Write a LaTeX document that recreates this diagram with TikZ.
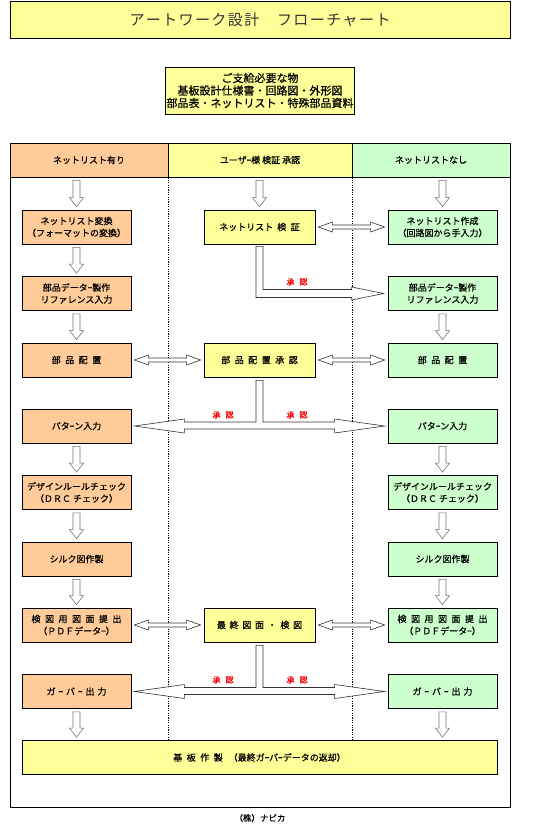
\documentclass[tikz,border=0pt]{standalone}
\usepackage{fontspec}
\setmainfont[FakeBold=0.6]{Noto Sans CJK JP}
\newfontfamily\titlefont{Noto Sans CJK JP}
\usetikzlibrary{calc}
\definecolor{orfill}{HTML}{FFCC99}
\definecolor{yefill}{HTML}{FFFF99}
\definecolor{grfill}{HTML}{CCFFCC}
\definecolor{redlbl}{HTML}{FF0000}
\makeatletter
\newcommand\spout[2]{\@tfor\tmpch:=#2\do{\tmpch\kern#1}\kern-#1}
\makeatother
\newcommand\dnarrow[2]{%
 \draw[dnarr] let \p1=(#1), \p2=(#2) in
  (\x2-3.5pt,\y1-3pt) -- (\x2+3.5pt,\y1-3pt) -- (\x2+3.5pt,\y2+12pt) -- (\x2+7pt,\y2+12pt)
  -- (\x2,\y2+3pt) -- (\x2-7pt,\y2+12pt) -- (\x2-3.5pt,\y2+12pt) -- cycle;}
\newcommand\dblarrow[2]{%
 \draw[harr] let \p1=(#1.east), \p2=(#2.west) in
  (\x1+3pt,\y1) -- (\x1+17pt,\y1+5pt) -- (\x1+17pt,\y1+2pt) -- (\x2-17pt,\y1+2pt)
  -- (\x2-17pt,\y1+5pt) -- (\x2-3pt,\y1) -- (\x2-17pt,\y1-5pt) -- (\x2-17pt,\y1-2pt)
  -- (\x1+17pt,\y1-2pt) -- (\x1+17pt,\y1-5pt) -- cycle;}
\newcommand\tarrow[3]{%
 \draw[harr] let \p1=(#1.south), \p2=(#2.east), \p3=(#3.west) in
  (\x2+3pt,\y2) -- (\x2+53pt,\y2+7pt) -- (\x2+53pt,\y2+4pt) -- (\x1-3.5pt,\y2+4pt)
  -- (\x1-3.5pt,\y1-3pt) -- (\x1+3.5pt,\y1-3pt) -- (\x1+3.5pt,\y2+4pt)
  -- (\x3-53pt,\y2+4pt) -- (\x3-53pt,\y2+7pt) -- (\x3-3pt,\y2) -- (\x3-53pt,\y2-7pt)
  -- (\x3-53pt,\y2-3pt) -- (\x2+53pt,\y2-3pt) -- (\x2+53pt,\y2-7pt) -- cycle;}
\begin{document}
\begin{tikzpicture}[x=1pt,y=-1pt,
  box/.style={draw, line width=0.8pt, minimum height=34pt, align=center, inner sep=1pt,
    font=\fontsize{9}{12}\selectfont},
  lbox/.style={box, fill=orfill, minimum width=109pt},
  cbox/.style={box, fill=yefill, minimum width=111pt},
  rbox/.style={box, fill=grfill, minimum width=109pt},
  hdr/.style={draw, line width=0.8pt, minimum height=34pt, font=\fontsize{9}{11}\selectfont},
  dnarr/.style={draw=black!55, line width=0.6pt, fill=white},
  harr/.style={draw=black!80, line width=0.6pt, fill=white},
  lbl/.style={text=redlbl, font=\fontsize{8}{10}\selectfont},
  dotline/.style={line width=1.4pt, dash pattern=on 1.2pt off 1.2pt}]
\useasboundingbox (0,0) rectangle (542,828);
\fill[white] (0,0) rectangle (542,828);
% title
\node[draw, line width=0.9pt, fill=yefill, minimum width=500pt, minimum height=37pt,
  font=\titlefont\fontsize{15}{17}\selectfont, text=black!80] (ttl) at (260,19.5)
  {\spout{1.4pt}{アートワーク設計　フローチャート}};
% supplies
\node[draw, line width=0.9pt, fill=yefill, minimum width=184pt, minimum height=47pt,
  align=center, inner sep=1pt, font=\fontsize{11}{12.5}\selectfont] (sup) at (260,90.5)
  {ご支給必要な物\\基板設計仕様書・回路図・外形図\\部品表・ネットリスト・特殊部品資料};
% frame and headers
\draw[line width=0.9pt] (10,143) rectangle (510,807);
\node[hdr, fill=orfill, minimum width=158pt] (hl) at (89,160) {ネットリスト有り};
\node[hdr, fill=yefill, minimum width=184pt] (hc) at (260,160) {ユーザｰ様 検証 承認};
\node[hdr, fill=grfill, minimum width=158pt] (hr) at (431,160) {ネットリストなし};
% bottom box
\node[box, fill=yefill, minimum width=475pt] (bot) at (259.5,757.5)
  {\spout{4.5pt}{基板作製}\hspace{6pt}（最終ガｰバｰデータの返却）};
% dotted separators
\draw[dotline] (hl.south east) -- (hl.south east |- bot.north);
\draw[dotline] (hc.south east) -- (hc.south east |- bot.north);
% left column
\node[lbox] (l1) at (76.5,227) {ネットリスト変換\\（フォーマットの変換）};
\node[lbox] (l2) at (76.5,293.5) {部品データｰ製作\\リファレンス入力};
\node[lbox] (l3) at (76.5,360) {\spout{4.5pt}{部品配置}};
\node[lbox] (l4) at (76.5,426) {パタｰン入力};
\node[lbox] (l5) at (76.5,492.5) {デザインルールチェック\\（ＤＲＣ チェック）};
\node[lbox] (l6) at (76.5,559) {シルク図作製};
\node[lbox] (l7) at (76.5,625) {\spout{4.5pt}{検図用図面提出}\\（ＰＤＦデータｰ）};
\node[lbox] (l8) at (76.5,691.5) {\spout{3pt}{ガｰバｰ出力}};
% center column
\node[cbox] (c1) at (259.5,227) {ネットリスト\hspace{4pt}\spout{4.5pt}{検証}};
\node[cbox] (c3) at (259.5,360) {\spout{4.5pt}{部品配置承認}};
\node[cbox] (c7) at (259.5,625) {\spout{3.7pt}{最終図面・検図}};
% right column
\node[rbox] (r1) at (442.5,227) {ネットリスト作成\\（回路図から手入力）};
\node[rbox] (r2) at (442.5,293.5) {部品データｰ製作\\リファレンス入力};
\node[rbox] (r3) at (442.5,360) {\spout{4.5pt}{部品配置}};
\node[rbox] (r4) at (442.5,426) {パタｰン入力};
\node[rbox] (r5) at (442.5,492.5) {デザインルールチェック\\（ＤＲＣ チェック）};
\node[rbox] (r6) at (442.5,559) {シルク図作製};
\node[rbox] (r7) at (442.5,625) {\spout{4.5pt}{検図用図面提出}\\（ＰＤＦデータｰ）};
\node[rbox] (r8) at (442.5,691.5) {\spout{3pt}{ガｰバｰ出力}};
% down arrows
\dnarrow{hl.south}{l1.north}
\dnarrow{l1.south}{l2.north}
\dnarrow{l2.south}{l3.north}
\dnarrow{l4.south}{l5.north}
\dnarrow{l5.south}{l6.north}
\dnarrow{l6.south}{l7.north}
\dnarrow{l8.south}{l8.south |- bot.north}
\dnarrow{hc.south}{c1.north}
\dnarrow{hr.south}{r1.north}
\dnarrow{r2.south}{r3.north}
\dnarrow{r4.south}{r5.north}
\dnarrow{r5.south}{r6.north}
\dnarrow{r6.south}{r7.north}
\dnarrow{r8.south}{r8.south |- bot.north}
% double arrows
\dblarrow{c1}{r1}
\dblarrow{l3}{c3}
\dblarrow{c3}{r3}
\dblarrow{l7}{c7}
\dblarrow{c7}{r7}
% bent arrow c1 -> r2
\draw[harr] let \p1=(c1.south), \p2=(r2.west) in
  (\x1-3.5pt,\y1-2pt) -- (\x1-3.5pt,\y2-4pt) -- (\x2-36pt,\y2-4pt) -- (\x2-36pt,\y2-6.5pt)
  -- (\x2-4pt,\y2) -- (\x2-36pt,\y2+6.5pt) -- (\x2-36pt,\y2+4pt) -- (\x1+3.5pt,\y2+4pt)
  -- (\x1+3.5pt,\y1-2pt) -- cycle;
\node[lbl] (a1) at (297,282) {承\hspace{5pt}認};
% T arrows
\tarrow{c3}{l4}{r4}
\node[lbl] (a2) at (223,415) {承\hspace{5pt}認};
\node[lbl] (a3) at (297,415) {承\hspace{5pt}認};
\tarrow{c7}{l8}{r8}
\node[lbl] (a4) at (223,680) {承\hspace{5pt}認};
\node[lbl] (a5) at (297,680) {承\hspace{5pt}認};
% footer
\node[font=\fontsize{8.5}{10}\selectfont] (foot) at (260,818) {（株）ナビカ};
\end{tikzpicture}
\end{document}
